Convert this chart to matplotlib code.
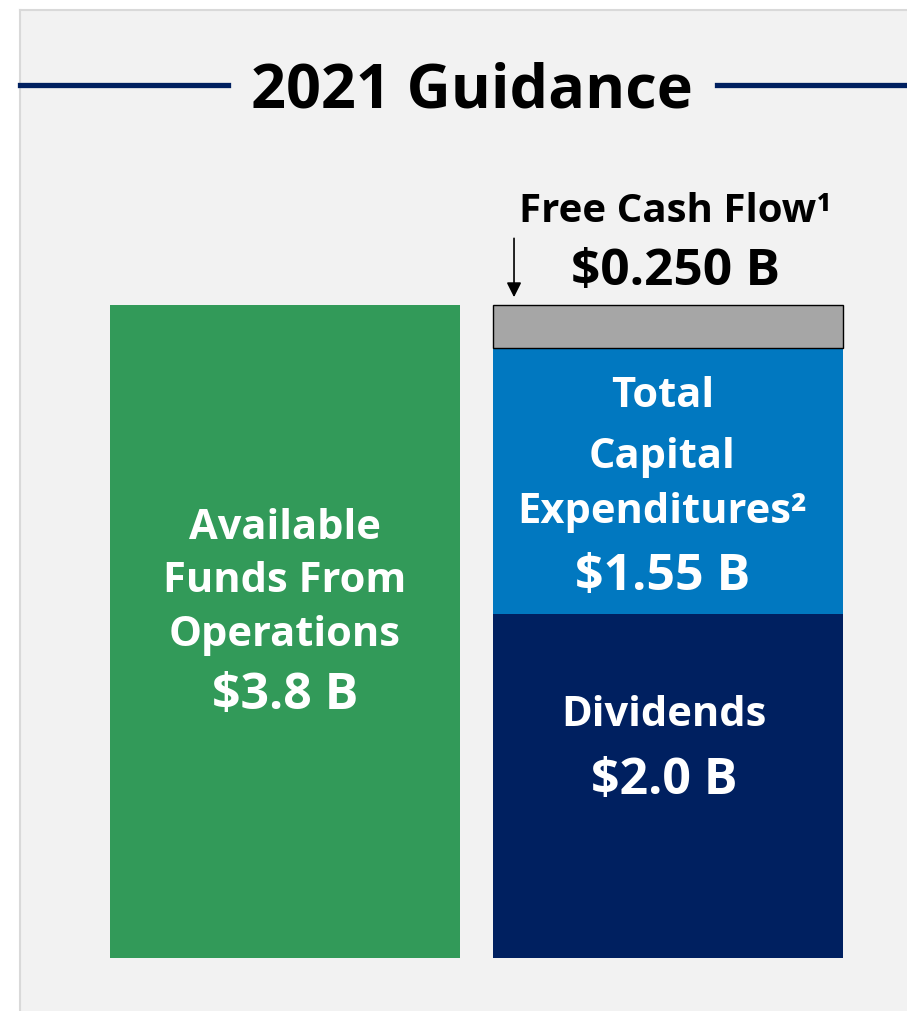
import matplotlib.pyplot as plt
from matplotlib.patches import Rectangle
from matplotlib.lines import Line2D

plt.rcParams['font.family'] = ['Open Sans', 'DejaVu Sans']

# data (billions of dollars)
bars = ['Available Funds From Operations', 'Uses']
funds = 3.8
dividends = 2.0
capex = 1.55
fcf = 0.250

green = '#329a59'
blue = '#0178c0'
navy = '#002060'
grey = '#a6a6a6'

W, H = 907, 1011
fig = plt.figure(figsize=(W / 100, H / 100), dpi=100)
fig.patch.set_facecolor('white')

# light grey panel with thin border on top / left
fig.patches.append(Rectangle((20 / W, 0), 1, (H - 10) / H, transform=fig.transFigure,
                             facecolor='#f2f2f2', edgecolor='none', zorder=0))
fig.lines.append(Line2D([20 / W, 1], [(H - 10) / H] * 2, transform=fig.transFigure,
                        color='#d9d9d9', lw=1.5))
fig.lines.append(Line2D([20 / W] * 2, [0, (H - 10) / H], transform=fig.transFigure,
                        color='#d9d9d9', lw=1.5))

# title with navy rules on each side
ty = (H - 85) / H
fig.lines.append(Line2D([20 / W, 228 / W], [ty, ty], transform=fig.transFigure, color=navy, lw=3.8))
fig.lines.append(Line2D([717 / W, 1], [ty, ty], transform=fig.transFigure, color=navy, lw=3.8))
fig.text(472 / W, ty, '2021 Guidance', ha='center', va='center_baseline',
         fontsize=44, fontweight='bold', color='black')

ax = fig.add_axes([0, 0, 1, 1])
ax.set_zorder(3)
ax.set_facecolor('none')
ax.axis('off')
ax.set_xlim(-0.744, 1.624)
ax.set_ylim(-0.3085, 5.576)

bw = 0.914
ax.bar(0, funds, width=bw, color=green)
ax.bar(1, dividends, width=bw, color=navy)
ax.bar(1, capex, width=bw, bottom=dividends, color=blue)
ax.bar(1, fcf, width=bw, bottom=dividends + capex, color=grey, edgecolor='black', linewidth=1)


def lines(x, ys, texts, sizes, color='white'):
    for y, t, s in zip(ys, texts, sizes):
        ax.text(x, y, t, ha='center', va='center_baseline', fontsize=s,
                fontweight='bold', color=color)


lines(0, [funds / 2 + 0.63, funds / 2 + 0.32, funds / 2 + 0.005, funds / 2 - 0.34],
      ['Available', 'Funds From', 'Operations', '$%.1f B' % funds], [30, 30, 30, 36])

cm = dividends + capex / 2
lines(0.985, [cm + 0.52, cm + 0.17, cm - 0.15, cm - 0.52],
      ['Total', 'Capital', 'Expenditures\u00b2', '$%.2f B' % capex], [30, 30, 30, 36])

lines(0.99, [dividends / 2 + 0.44, dividends / 2 + 0.065],
      ['Dividends', '$%.1f B' % dividends], [30, 36])

top = dividends + capex + fcf
lines(1.02, [top + 0.57, top + 0.225], ['Free Cash Flow\u00b9', '$%.3f B' % fcf], [29, 37],
      color='black')

# arrow pointing at the free cash flow segment
ax.annotate('', xy=(0.598, top + 0.03), xytext=(0.598, top + 0.405),
            arrowprops=dict(arrowstyle='-|>', color='black', lw=1.2, mutation_scale=22))

fig.savefig('out.png', dpi=100)
